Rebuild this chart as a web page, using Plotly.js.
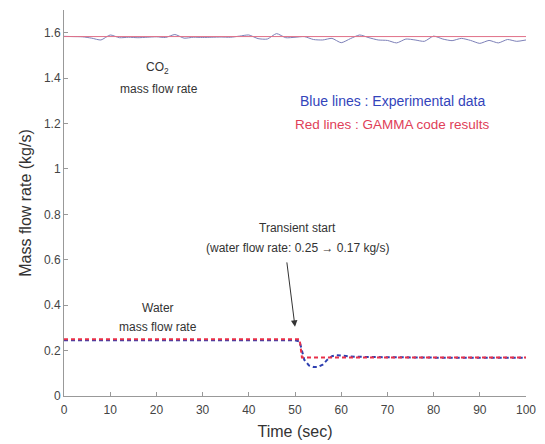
<!DOCTYPE html>
<html>
<head>
<meta charset="utf-8">
<script src="https://cdn.plot.ly/plotly-3.0.1.min.js"></script>
<style>html,body{margin:0;padding:0;background:#fff;}#chart{width:545px;height:444px;}</style>
</head>
<body>
<div id="chart"></div>
<script>
// CO2 mass flow rate
const co2Time = [0,2,4,6,8,10,12,14,16,18,20,22,24,26,28,30,32,34,36,38,40,42,44,46,48,50,52,54,56,58,60,62,64,66,68,70,72,74,76,78,80,82,84,86,88,90,92,94,96,98,100];
const co2Exp  = [1.584,1.583,1.582,1.576,1.568,1.590,1.578,1.580,1.578,1.580,1.582,1.579,1.592,1.576,1.580,1.579,1.580,1.581,1.580,1.585,1.590,1.574,1.572,1.596,1.578,1.580,1.583,1.570,1.568,1.575,1.556,1.574,1.590,1.578,1.568,1.566,1.555,1.572,1.568,1.562,1.585,1.572,1.565,1.575,1.566,1.553,1.566,1.555,1.570,1.562,1.568];
const co2CalcTime = [0, 100];
const co2Calc = [1.583, 1.583];

// Water mass flow rate
const waterExpTime = [0,10,20,30,40,50,51,51.5,52,53,54,55,56,57,58,59,60,62,65,70,80,90,100];
const waterExp     = [0.245,0.245,0.245,0.245,0.245,0.245,0.24,0.20,0.16,0.135,0.128,0.128,0.138,0.16,0.175,0.180,0.178,0.174,0.172,0.170,0.169,0.168,0.168];
const waterCalcTime = [0,51,51.5,100];
const waterCalc     = [0.25,0.25,0.17,0.17];

const xTicks = [0,10,20,30,40,50,60,70,80,90,100];
const yTicks = [0,0.2,0.4,0.6,0.8,1,1.2,1.4,1.6];

const font = "Liberation Sans, Arial, sans-serif";

const traces = [
  {x: co2Time, y: co2Exp, mode: 'lines', line: {color: '#7d80b8', width: 1, shape: 'spline', smoothing: 0.6}, hoverinfo: 'skip'},
  {x: co2CalcTime, y: co2Calc, mode: 'lines', line: {color: '#e07088', width: 1}, hoverinfo: 'skip'},
  {x: waterExpTime, y: waterExp, mode: 'lines', line: {color: '#2e3fb0', width: 2, dash: '4px,3px'}, hoverinfo: 'skip'},
  {x: waterCalcTime, y: waterCalc, mode: 'lines', line: {color: '#e8304a', width: 2, dash: '4px,3px'}, hoverinfo: 'skip'}
];

const ann = (x, y, text, opts) => Object.assign({x, y, xref: 'x', yref: 'y', text, showarrow: false,
  font: {family: font, size: 12, color: '#333'}}, opts || {});

const layout = {
  width: 545, height: 444,
  margin: {l: 64, r: 19, t: 10, b: 48},
  paper_bgcolor: '#fff', plot_bgcolor: '#fff',
  showlegend: false,
  font: {family: font, color: '#444'},
  xaxis: {
    range: [0, 100], tickvals: xTicks, ticks: 'inside', ticklen: 4, tickcolor: '#999',
    showline: true, linecolor: '#999', linewidth: 1, showgrid: false, zeroline: false,
    ticklabelstandoff: 3,
    tickfont: {family: font, size: 12, color: '#444'},
    title: {text: 'Time (sec)', font: {family: font, size: 16, color: '#333'}, standoff: 9}
  },
  yaxis: {
    range: [0, 1.7], tickvals: yTicks, ticks: 'inside', ticklen: 4, tickcolor: '#999',
    showline: true, linecolor: '#999', linewidth: 1, showgrid: false, zeroline: false,
    tickfont: {family: font, size: 12, color: '#444'},
    title: {text: 'Mass flow rate (kg/s)', font: {family: font, size: 16, color: '#333'}, standoff: 8}
  },
  annotations: [
    ann(20.3, 1.445, 'CO<sub>2</sub>'),
    ann(20.6, 1.35, 'mass flow rate'),
    ann(71, 1.3, 'Blue lines : Experimental data', {font: {family: font, size: 14, color: '#3344bb'}}),
    ann(71, 1.194, 'Red lines : GAMMA code results', {font: {family: font, size: 13.5, color: '#e04058'}}),
    ann(50.5, 0.738, 'Transient start'),
    ann(50.5, 0.65, '(water flow rate: 0.25 \u2192 0.17 kg/s)'),
    ann(20.3, 0.387, 'Water'),
    ann(20.3, 0.303, 'mass flow rate'),
    {x: 50, y: 0.305, xref: 'x', yref: 'y', ax: 48.2, ay: 0.595, axref: 'x', ayref: 'y',
     text: '', showarrow: true, arrowhead: 2, arrowsize: 1.3, arrowwidth: 1, arrowcolor: '#333'}
  ]
};

Plotly.newPlot('chart', traces, layout, {staticPlot: true, displayModeBar: false});
</script>
</body>
</html>
